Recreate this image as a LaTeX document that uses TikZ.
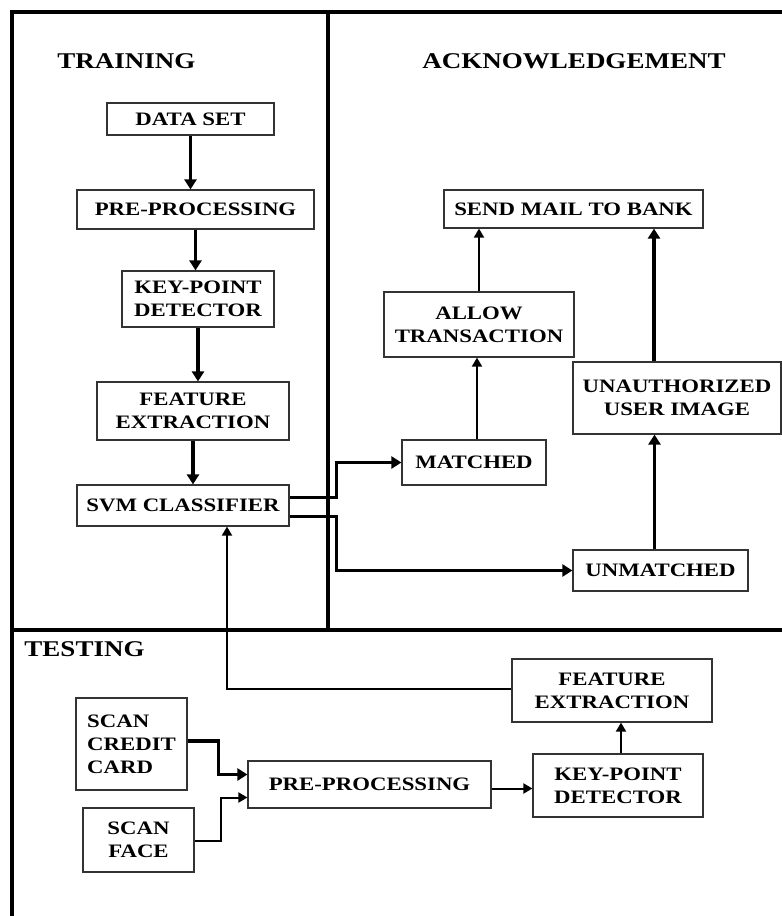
\documentclass[tikz,border=0pt]{standalone}
\usepackage{fontspec}
\setmainfont{Liberation Serif}
\newfontfamily\boxfont{Liberation Serif}[FakeStretch=1.2]
\usetikzlibrary{arrows.meta}

\begin{document}
\begin{tikzpicture}[x=1pt, y=-1pt]

    \useasboundingbox (0,0) rectangle (782,916);

    % Estilos
    \tikzset{
        box/.style={draw=black!80, line width=1.2pt, align=center, inner sep=2pt,
            font=\boxfont\bfseries\fontsize{19}{23}\selectfont},
        title/.style={font=\boxfont\bfseries\fontsize{22.5}{26}\selectfont},
        thickarrow/.style={line width=3.5pt, -{Triangle[length=10pt, width=12pt]}},
        thinarrow/.style={line width=2pt, -{Triangle[length=9pt, width=10pt]}}
    }

    % --------------------
    % Moldura
    % --------------------
    \draw[line width=3.5pt] (12,916) -- (12,12) -- (782,12);
    \draw[line width=3.5pt] (328,12) -- (328,630);
    \draw[line width=3.5pt] (12,630) -- (782,630);

    \node[title] (ttrain) at (126.5,61) {TRAINING};
    \node[title] (tack)   at (574,61)   {ACKNOWLEDGEMENT};
    \node[title] (ttest)  at (84.5,649) {TESTING};

    % --------------------
    % Training
    % --------------------
    \node[box, minimum width=167pt, minimum height=32pt] (data) at (190.5,119) {DATA SET};
    \node[box, minimum width=237pt, minimum height=39pt] (pre)  at (195.5,209.5) {PRE-PROCESSING};
    \node[box, minimum width=152pt, minimum height=56pt] (kpd)  at (198,299) {KEY-POINT\\DETECTOR};
    \node[box, minimum width=192pt, minimum height=58pt] (fe)   at (193,411) {FEATURE\\EXTRACTION};
    \node[box, minimum width=212pt, minimum height=41pt] (svm)  at (183,505.5) {SVM CLASSIFIER};

    \draw[thickarrow] (data.south) -- (data.south |- pre.north);
    \draw[thickarrow] (pre.south)  -- (pre.south |- kpd.north);
    \draw[thickarrow] (kpd.south)  -- (kpd.south |- fe.north);
    \draw[thickarrow] (fe.south)   -- (fe.south |- svm.north);

    % --------------------
    % Acknowledgement
    % --------------------
    \node[box, minimum width=259pt, minimum height=38pt] (send)    at (573.5,209) {SEND MAIL TO BANK};
    \node[box, minimum width=190pt, minimum height=65pt] (allow)   at (479,324.5) {ALLOW\\TRANSACTION};
    \node[box, minimum width=208pt, minimum height=72pt] (unauth)  at (677,398) {UNAUTHORIZED\\USER IMAGE};
    \node[box, minimum width=144pt, minimum height=45pt] (match)   at (474,462.5) {MATCHED};
    \node[box, minimum width=175pt, minimum height=41pt] (unmatch) at (660.5,570.5) {UNMATCHED};

    \draw[thinarrow] (allow.north) -- (allow.north |- send.south);
    \draw[thickarrow] ([xshift=-23pt]unauth.north) coordinate (u1) -- (u1 |- send.south);
    \draw[thinarrow] ([xshift=3pt]match.north) coordinate (m1) -- (m1 |- allow.south);
    \draw[thickarrow] ([xshift=-6pt]unmatch.north) coordinate (n1) -- (n1 |- unauth.south);

    \draw[thickarrow] ([yshift=8pt]svm.east) -- ++(47,0) |- (match.west);
    \draw[thickarrow] ([yshift=-11pt]svm.east) -- ++(47,0) |- (unmatch.west);

    % --------------------
    % Testing
    % --------------------
    \node[box, align=left, minimum width=111pt, minimum height=92pt] (scc) at (131.5,744) {SCAN\\CREDIT\\CARD};
    \node[box, minimum width=111pt, minimum height=64pt] (face) at (138.5,840) {SCAN\\FACE};
    \node[box, minimum width=243pt, minimum height=47pt] (pp2)  at (369.5,784.5) {PRE-PROCESSING};
    \node[box, minimum width=170pt, minimum height=63pt] (kpd2) at (618,785.5) {KEY-POINT\\DETECTOR};
    \node[box, minimum width=200pt, minimum height=63pt] (fe2)  at (612,690.5) {FEATURE\\EXTRACTION};

    \draw[thickarrow] ([yshift=3pt]scc.east) -- ++(31,0) |- ([yshift=10pt]pp2.west);
    \draw[thinarrow] ([yshift=-1pt]face.east) -- ++(26,0) |- ([yshift=-13pt]pp2.west);
    \draw[thinarrow] ([yshift=-4pt]pp2.east) coordinate (p1) -- (p1 -| kpd2.west);
    \draw[thinarrow] ([xshift=3pt]kpd2.north) coordinate (k1) -- (k1 |- fe2.south);
    \draw[thinarrow] ([yshift=2pt]fe2.west) -| ([xshift=44pt]svm.south);

\end{tikzpicture}
\end{document}
